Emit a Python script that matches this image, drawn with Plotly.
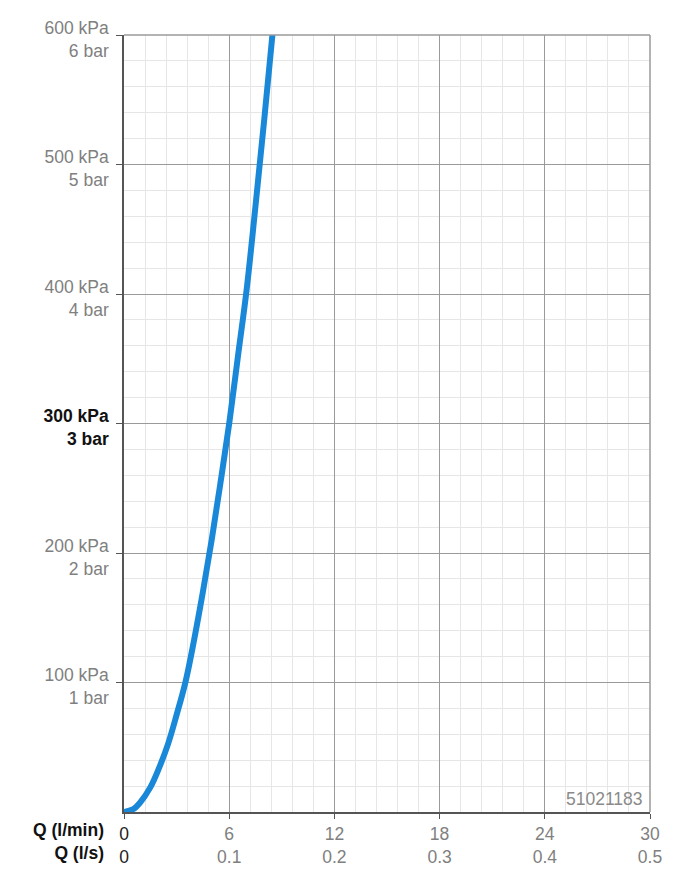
import plotly.graph_objects as go

# Flow (l/min) vs pressure loss (kPa)
flow_lpm = [0, 0.5, 0.9, 1.5, 2.0, 2.5, 3.0, 3.5, 4.0, 4.5, 5.0, 5.5, 6.0, 6.5, 7.0, 7.5, 8.0, 8.5]
pressure_kpa = [0, 2, 7, 19, 34, 52, 75, 100, 133, 170, 210, 254, 300, 352, 404, 468, 535, 605]

x_tickvals = [0, 6, 12, 18, 24, 30]
x_ticktext = ['<span style="color:#222">0</span><br><span style="color:#222">0</span>',
              "6<br>0.1", "12<br>0.2", "18<br>0.3", "24<br>0.4", "30<br>0.5"]
y_tickvals = [100, 200, 300, 400, 500, 600]
y_ticktext = ["100 kPa<br>1 bar", "200 kPa<br>2 bar",
              '<b><span style="color:#111">300 kPa</span></b><br><b><span style="color:#111">3 bar</span></b>',
              "400 kPa<br>4 bar", "500 kPa<br>5 bar", "600 kPa<br>6 bar"]
article_no = "51021183"

FONT = "Liberation Sans, Arial, sans-serif"
FS = 17.5

fig = go.Figure()
fig.add_trace(go.Scatter(x=flow_lpm, y=pressure_kpa, mode="lines",
                         line=dict(color="#1a88d8", width=6, shape="spline", smoothing=1.0),
                         cliponaxis=True, hoverinfo="skip"))

fig.update_layout(
    width=670, height=865,
    margin=dict(l=116, r=28, t=27, b=61),
    paper_bgcolor="white", plot_bgcolor="white",
    showlegend=False,
    font=dict(family=FONT, size=FS, color="#808080"),
    xaxis=dict(range=[0, 30], tickvals=x_tickvals, ticktext=x_ticktext,
               automargin=False,
               showgrid=True, gridcolor="#9a9a9a", gridwidth=1,
               minor=dict(dtick=1.2, showgrid=True, gridcolor="#e6e6e6", gridwidth=1),
               showline=True, linecolor="#555", linewidth=1.5,
               ticks="outside", ticklen=5, tickcolor="#555",
               zeroline=False, fixedrange=True,
               tickfont=dict(size=FS, color="#808080")),
    yaxis=dict(range=[0, 600], tickvals=y_tickvals, ticktext=y_ticktext,
               automargin=False, ticklabelshift=4, ticklabelstandoff=4,
               showgrid=True, gridcolor="#9a9a9a", gridwidth=1,
               minor=dict(dtick=20, showgrid=True, gridcolor="#e6e6e6", gridwidth=1),
               showline=True, linecolor="#555", linewidth=1.5,
               ticks="outside", ticklen=6, tickcolor="#555",
               zeroline=False, fixedrange=True,
               tickfont=dict(size=FS, color="#808080")),
)

# top and right borders
fig.add_shape(type="line", xref="paper", yref="paper", x0=0, x1=1, y0=1, y1=1,
              line=dict(color="#9a9a9a", width=1.5))
fig.add_shape(type="line", xref="paper", yref="paper", x0=1, x1=1, y0=0, y1=1,
              line=dict(color="#9a9a9a", width=1.5))

fig.add_annotation(text="<b>Q (l/min)</b><br><b>Q (l/s)</b>", xref="paper", yref="paper",
                   x=(106 - 124) / 526, y=(812 - 842) / 777, xanchor="right", yanchor="middle",
                   align="right", showarrow=False,
                   font=dict(size=FS, color="#111", family=FONT))
fig.add_annotation(text=article_no, xref="paper", yref="paper", x=(645 - 124) / 526, y=(812 - 799) / 777,
                   xanchor="right", yanchor="middle", showarrow=False,
                   font=dict(size=FS, color="#8a8a8a", family=FONT))

fig.write_html("out.html")
